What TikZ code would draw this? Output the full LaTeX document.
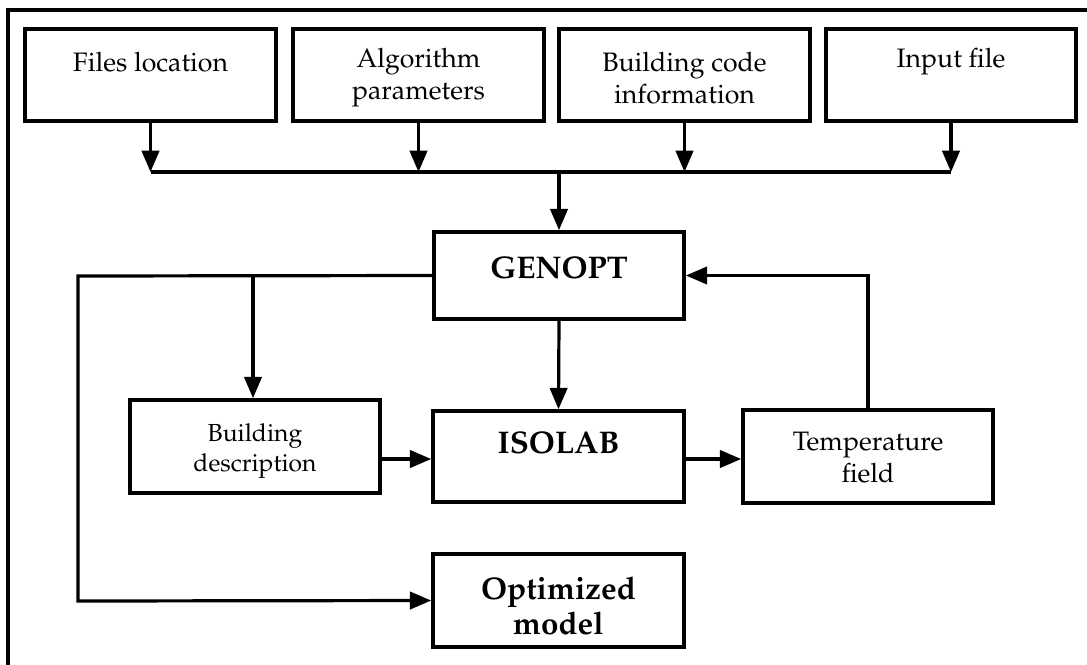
\documentclass[tikz,border=0pt]{standalone}
\usepackage[T1]{fontenc}
\usepackage{mathpazo}
\usetikzlibrary{arrows.meta}
\tikzset{
  box/.style={draw, line width=2.7pt, rectangle, inner sep=0pt, fill=none},
  conn/.style={line width=2.4pt},
  arr/.style={conn, -{Triangle[length=16pt,width=13pt]}},
  txt/.style={inner sep=0pt, align=center, font=\fontsize{20}{24}\selectfont},
  txtsm/.style={inner sep=0pt, align=center, font=\fontsize{18.5}{23}\selectfont},
  txtb/.style={inner sep=0pt, align=center, font=\fontsize{23.5}{26}\selectfont\bfseries},
  frame/.style={line width=2.4pt}
}
\newcommand\bx[5]{\node[box, minimum width={(#4-#2)*0.75pt}, minimum height={(#5-#3)*0.75pt}] (#1) at ({(#2+#4)/2},{(#3+#5)/2}) {};}
\begin{document}
\begin{tikzpicture}[x=0.75pt,y=-0.75pt]
\useasboundingbox (0,0) rectangle (1087,664);
% outer frame (only top and left edges visible)
\coordinate (fa) at (8,666);
\coordinate (fb) at (8,10);
\coordinate (fc) at (1089,10);
\draw[frame] (fa) -- (fb) -- (fc);
% boxes
\bx{b1}{25}{29}{276}{121}
\bx{b2}{293}{29}{544}{121}
\bx{b3}{559}{29}{810}{121}
\bx{b4}{826}{29}{1076}{121}
\bx{gen}{434}{232}{684}{319}
\bx{bd}{130}{400}{380}{493}
\bx{iso}{433}{411}{684}{502}
\bx{tf}{743}{410}{993}{503}
\bx{opt}{433}{554}{684}{647}
% texts
\node[txt] (t1) at (150.5,62) {Files location};
\node[txt] (t2) at (418.5,78) {Algorithm\\parameters};
\node[txt] (t3) at (684.5,78) {Building code\\information};
\node[txt] (t4) at (951,62) {Input file};
\node[txtb] (tg) at (559,268) {GENOPT};
\node[txtsm] (tb) at (255,451) {Building\\description};
\node[txtb] (ti) at (558.5,443) {ISOLAB};
\node[txt] (tt) at (868,458) {Temperature\\field};
\node[txtb] (to) at (558.5,606) {Optimized\\model};
% bus
\coordinate (bus) at (0,172);
\draw[arr] (b1.south) -- (b1.south |- bus);
\draw[arr] (b2.south) -- (b2.south |- bus);
\draw[arr] (b3.south) -- (b3.south |- bus);
\draw[arr] (b4.south) -- (b4.south |- bus);
\draw[conn] (b1.south |- bus) -- (b4.south |- bus);
\draw[arr] (gen.north |- bus) -- (gen.north);
% left loop
\coordinate (lc1) at (78,276);
\coordinate (lc2) at (78,601);
\coordinate (br) at (253,276);
\draw[arr] (gen.west) -- (lc1) -- (lc2) -- (opt.west);
\draw[arr] (br) -- (br |- bd.north);
% middle
\draw[arr] (gen.south) -- (iso.north);
\coordinate (m) at (0,459);
\draw[arr] (bd.east |- m) -- (iso.west |- m);
\draw[arr] (iso.east |- m) -- (tf.west |- m);
% feedback
\draw[arr] (tf.north) -- (tf.north |- gen.east) -- (gen.east);
\end{tikzpicture}
\end{document}
